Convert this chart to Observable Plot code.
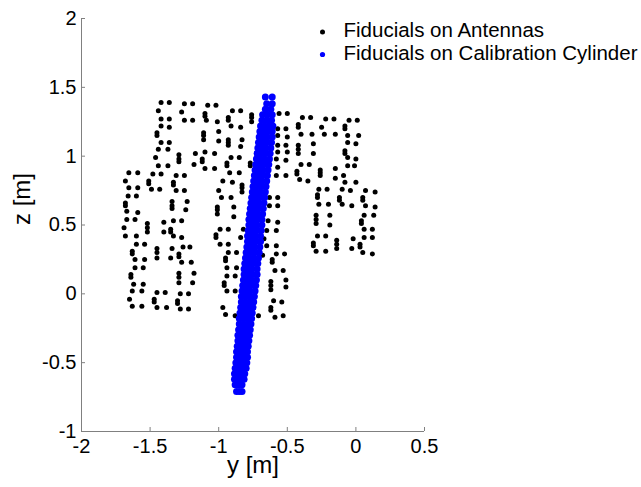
<!DOCTYPE html>
<html>
<head>
<meta charset="utf-8">
<script src="https://cdn.jsdelivr.net/npm/d3@7"></script>
<script src="https://cdn.jsdelivr.net/npm/@observablehq/plot@0.6"></script>
<style>
html, body { margin: 0; padding: 0; background: #ffffff; }
#chart { width: 641px; height: 487px; }
</style>
</head>
<body>
<div id="chart"></div>
<script>
// Axis ticks
const yTicks = [-2, -1.5, -1, -0.5, 0, 0.5];
const zTicks = [-1, -0.5, 0, 0.5, 1, 1.5, 2];
const axisLabels = ["y [m]", "z [m]"];

// Legend series
const seriesNames = ["Fiducials on Antennas", "Fiducials on Calibration Cylinder"];
const seriesColors = ["#000000", "#0000ff"];

// Fiducials on antennas: [y, z] in metres
const antennaPoints = [
  [-1.42,1.39],[-1.36,1.39],[-1.25,1.38],[-1.19,1.38],
  [-1.44,1.33],[-1.27,1.32],
  [-1.42,1.27],[-1.36,1.27],[-1.25,1.26],[-1.19,1.26],
  [-1.42,1.22],[-1.36,1.21],
  [-1.45,1.17],[-1.45,1.15],
  [-1.42,1.10],[-1.36,1.10],
  [-1.44,1.05],[-1.37,1.05],
  [-1.29,1.01],[-1.29,0.98],[-1.29,0.96],
  [-1.17,1.02],[-1.46,0.99],
  [-1.44,0.93],[-1.37,0.93],[-1.18,0.94],
  [-1.655,0.88],[-1.59,0.88],[-1.48,0.87],[-1.42,0.87],[-1.31,0.86],[-1.25,0.86],
  [-1.68,0.82],[-1.51,0.82],[-1.51,0.80],[-1.33,0.81],[-1.33,0.79],
  [-1.655,0.77],[-1.59,0.77],[-1.49,0.76],[-1.43,0.76],[-1.31,0.75],[-1.25,0.75],
  [-1.66,0.71],[-1.60,0.71],
  [-1.68,0.66],[-1.68,0.64],[-1.23,0.67],
  [-1.34,0.67],[-1.34,0.64],[-1.34,0.62],
  [-1.67,0.60],[-1.59,0.59],[-1.24,0.61],
  [-1.67,0.54],[-1.61,0.54],
  [-1.52,0.51],[-1.52,0.48],[-1.52,0.45],
  [-1.40,0.52],[-1.33,0.53],[-1.27,0.53],
  [-1.69,0.48],[-1.40,0.45],[-1.35,0.47],[-1.35,0.45],
  [-1.68,0.42],[-1.60,0.42],[-1.33,0.42],[-1.27,0.41],
  [-1.60,0.36],[-1.54,0.36],
  [-1.45,0.33],[-1.45,0.30],[-1.45,0.26],
  [-1.34,0.33],[-1.26,0.34],[-1.21,0.34],
  [-1.63,0.31],[-1.63,0.29],[-1.29,0.29],[-1.29,0.27],
  [-1.61,0.25],[-1.54,0.25],[-1.35,0.26],[-1.27,0.23],[-1.20,0.23],
  [-1.61,0.19],[-1.55,0.19],[-1.18,0.15],
  [-1.64,0.14],[-1.64,0.12],
  [-1.29,0.15],[-1.29,0.12],[-1.29,0.08],
  [-1.62,0.07],[-1.55,0.07],[-1.19,0.08],
  [-1.63,0.02],[-1.56,0.02],[-1.45,0.01],[-1.39,0.01],[-1.28,0.00],[-1.22,0.00],
  [-1.65,-0.04],[-1.47,-0.04],[-1.47,-0.06],[-1.30,-0.05],[-1.30,-0.07],
  [-1.63,-0.09],[-1.56,-0.09],[-1.45,-0.10],[-1.38,-0.10],[-1.28,-0.11],[-1.22,-0.11],
  [-1.08,1.37],[-1.02,1.37],[-1.10,1.31],[-1.10,1.29],
  [-0.90,1.33],[-0.84,1.33],
  [-0.76,1.30],[-0.76,1.28],[-0.76,1.25],
  [-1.09,1.26],[-1.01,1.25],[-0.93,1.28],[-0.93,1.26],
  [-0.91,1.22],[-0.84,1.21],
  [-1.11,1.17],[-1.11,1.15],[-1.11,1.12],
  [-1.00,1.18],
  [-0.93,1.12],[-0.93,1.10],[-0.93,1.08],
  [-1.00,1.11],[-0.83,1.12],[-0.84,1.07],
  [-1.10,1.03],[-1.03,1.02],
  [-0.91,0.99],[-0.85,0.99],
  [-1.12,0.98],[-1.12,0.96],
  [-1.10,0.91],[-1.03,0.91],
  [-0.94,0.95],[-0.94,0.93],
  [-0.77,0.95],[-0.77,0.93],
  [-0.92,0.88],[-0.85,0.88],
  [-0.97,0.82],[-0.90,0.81],
  [-0.83,0.79],[-0.83,0.77],[-0.83,0.74],
  [-1.00,0.75],
  [-0.98,0.70],[-0.91,0.70],
  [-0.56,1.31],[-0.50,1.31],
  [-0.57,1.20],[-0.51,1.20],
  [-0.57,1.15],[-0.50,1.14],
  [-0.57,1.08],[-0.51,1.08],
  [-0.57,1.03],[-0.50,1.03],
  [-0.58,0.98],[-0.51,0.97],
  [-0.57,0.92],
  [-0.58,0.86],[-0.51,0.86],
  [-0.63,0.70],[-0.57,0.70],
  [-0.63,0.64],[-0.57,0.64],
  [-1.01,0.63],[-1.01,0.61],[-1.01,0.58],
  [-0.89,0.63],[-0.89,0.56],
  [-0.64,0.53],[-0.57,0.52],
  [-0.99,0.47],[-0.93,0.47],[-0.82,0.47],
  [-1.02,0.43],[-1.02,0.41],[-0.84,0.41],[-0.67,0.40],
  [-0.65,0.46],[-0.58,0.46],
  [-0.99,0.36],[-0.93,0.36],[-0.65,0.35],[-0.58,0.35],
  [-0.93,0.30],[-0.87,0.30],
  [-0.95,0.26],[-0.95,0.24],[-0.68,0.28],[-0.58,0.29],[-0.52,0.29],
  [-0.94,0.19],[-0.87,0.19],[-0.61,0.25],[-0.61,0.23],
  [-0.94,0.13],[-0.88,0.13],[-0.59,0.17],[-0.53,0.17],
  [-0.96,0.08],[-0.96,0.06],
  [-0.62,0.09],[-0.62,0.06],[-0.62,0.03],
  [-0.51,0.10],[-0.51,0.05],
  [-0.94,0.02],[-0.88,0.02],
  [-0.60,-0.05],[-0.54,-0.06],
  [-0.97,-0.10],[-0.78,-0.12],[-0.62,-0.10],[-0.62,-0.12],
  [-0.95,-0.15],[-0.88,-0.16],[-0.71,-0.16],[-0.59,-0.17],[-0.53,-0.16],
  [-0.39,1.28],[-0.33,1.28],[-0.22,1.27],[-0.16,1.27],[-0.05,1.26],[0.01,1.26],
  [-0.42,1.23],[-0.42,1.21],[-0.25,1.21],[-0.08,1.22],[-0.08,1.20],
  [-0.40,1.16],[-0.32,1.16],[-0.23,1.16],[-0.15,1.16],[-0.06,1.15],[0.02,1.15],
  [-0.42,1.08],[-0.42,1.05],[-0.42,1.02],
  [-0.31,1.09],[-0.06,1.10],[0.00,1.09],
  [-0.31,1.02],[-0.08,1.04],[-0.08,1.02],
  [-0.06,0.99],[0.00,0.98],
  [-0.40,0.94],[-0.34,0.94],[-0.06,0.93],[-0.01,0.93],
  [-0.26,0.90],[-0.26,0.88],[-0.26,0.86],
  [-0.15,0.91],[-0.43,0.89],[-0.43,0.87],[-0.09,0.86],
  [-0.41,0.83],[-0.35,0.82],[-0.15,0.84],[-0.08,0.81],[0.00,0.81],
  [-0.27,0.76],[-0.21,0.76],[-0.10,0.76],[-0.04,0.75],[0.07,0.75],[0.14,0.74],
  [-0.28,0.72],[-0.28,0.70],[-0.12,0.70],[-0.12,0.68],[0.05,0.70],[0.05,0.68],
  [-0.27,0.65],[-0.20,0.65],[-0.10,0.65],[-0.03,0.64],[0.07,0.64],[0.14,0.63],
  [-0.29,0.57],[-0.29,0.54],[-0.29,0.51],
  [-0.19,0.57],[0.06,0.57],[0.13,0.57],
  [0.04,0.53],[0.04,0.51],
  [-0.19,0.50],[0.06,0.47],[0.12,0.47],
  [-0.28,0.42],[-0.22,0.42],
  [-0.14,0.39],[-0.14,0.36],[-0.14,0.33],
  [0.06,0.41],[0.12,0.41],[-0.02,0.40],
  [-0.31,0.37],[-0.31,0.35],[0.03,0.36],[0.03,0.34],[-0.03,0.33],
  [-0.29,0.31],[-0.22,0.31],[0.05,0.30],[0.12,0.29]
];

// Fiducials on calibration cylinder: rows of [z, [y values]] in metres
const cylinderRows = [
  [1.43, [-0.66, -0.61]],
  [1.38, [-0.65, -0.61]],
  [1.34, [-0.66, -0.62]],
  [1.30, [-0.68, -0.645, -0.61]],
  [1.26, [-0.685, -0.65, -0.615]],
  [1.22, [-0.695, -0.665, -0.635, -0.605]],
  [1.18, [-0.70, -0.67, -0.64, -0.61]],
  [1.14, [-0.705, -0.675, -0.645, -0.61]],
  [1.10, [-0.71, -0.68, -0.65, -0.615]],
  [1.06, [-0.715, -0.685, -0.655, -0.62]],
  [1.02, [-0.72, -0.69, -0.66, -0.625]],
  [0.98, [-0.725, -0.695, -0.665, -0.63]],
  [0.94, [-0.73, -0.70, -0.67, -0.635]],
  [0.90, [-0.735, -0.705, -0.675, -0.64]],
  [0.86, [-0.74, -0.71, -0.68, -0.645]],
  [0.82, [-0.745, -0.715, -0.685, -0.65]],
  [0.78, [-0.75, -0.72, -0.69, -0.655]],
  [0.74, [-0.755, -0.725, -0.695, -0.66]],
  [0.70, [-0.76, -0.73, -0.70, -0.665]],
  [0.66, [-0.765, -0.735, -0.705, -0.67]],
  [0.62, [-0.77, -0.74, -0.71, -0.675]],
  [0.58, [-0.775, -0.745, -0.715, -0.68]],
  [0.54, [-0.78, -0.75, -0.72, -0.685]],
  [0.50, [-0.78, -0.75, -0.72, -0.685]],
  [0.46, [-0.785, -0.755, -0.725, -0.69]],
  [0.42, [-0.79, -0.76, -0.73, -0.695]],
  [0.38, [-0.79, -0.76, -0.73, -0.695]],
  [0.34, [-0.795, -0.765, -0.735, -0.70]],
  [0.30, [-0.80, -0.77, -0.74, -0.705]],
  [0.26, [-0.805, -0.775, -0.745, -0.71]],
  [0.22, [-0.81, -0.78, -0.75, -0.715]],
  [0.18, [-0.815, -0.785, -0.755, -0.72]],
  [0.14, [-0.815, -0.785, -0.755, -0.72]],
  [0.10, [-0.82, -0.79, -0.76, -0.725]],
  [0.06, [-0.825, -0.795, -0.765, -0.73]],
  [0.02, [-0.83, -0.80, -0.77, -0.735]],
  [-0.02, [-0.835, -0.805, -0.775, -0.74]],
  [-0.06, [-0.835, -0.805, -0.775, -0.745]],
  [-0.10, [-0.84, -0.81, -0.78, -0.75]],
  [-0.14, [-0.845, -0.815, -0.785, -0.755]],
  [-0.18, [-0.85, -0.82, -0.79, -0.76]],
  [-0.22, [-0.85, -0.82, -0.79, -0.765]],
  [-0.26, [-0.855, -0.825, -0.80, -0.77]],
  [-0.30, [-0.86, -0.83, -0.80, -0.775]],
  [-0.34, [-0.86, -0.835, -0.81, -0.78]],
  [-0.38, [-0.865, -0.84, -0.81, -0.785]],
  [-0.42, [-0.87, -0.84, -0.815, -0.79]],
  [-0.46, [-0.87, -0.845, -0.82, -0.79]],
  [-0.50, [-0.875, -0.85, -0.82, -0.795]],
  [-0.54, [-0.88, -0.855, -0.83, -0.80]],
  [-0.58, [-0.885, -0.86, -0.835, -0.81]],
  [-0.62, [-0.885, -0.86, -0.835, -0.815]],
  [-0.66, [-0.88, -0.855, -0.83]],
  [-0.71, [-0.87, -0.85, -0.83]]
];

const cylinderPoints = cylinderRows.flatMap(([z, ys]) => ys.map(y => [y, z]));
const fmt = d => String(d);
const axisGray = "#808080";

const chart = Plot.plot({
  width: 641,
  height: 487,
  marginLeft: 81,
  marginRight: 217,
  marginTop: 18,
  marginBottom: 56,
  style: { fontFamily: "'Liberation Sans', Arial, sans-serif", background: "#ffffff", color: "#000000", overflow: "visible" },
  x: { domain: [yTicks[0], yTicks[yTicks.length - 1]] },
  y: { domain: [zTicks[0], zTicks[zTicks.length - 1]] },
  marks: [
    Plot.ruleY([zTicks[0]], { stroke: axisGray }),
    Plot.ruleX([yTicks[0]], { stroke: axisGray }),
    Plot.tickX(yTicks, { x: d => d, stroke: axisGray, insetTop: 409 }),
    Plot.tickY(zTicks, { y: d => d, stroke: axisGray, insetRight: 339 }),
    Plot.axisX({ ticks: yTicks, tickSize: 0, tickPadding: 7, tickFormat: fmt, fontSize: 20, label: null }),
    Plot.axisY({ ticks: zTicks, tickSize: 0, tickPadding: 5, tickFormat: fmt, fontSize: 20, label: null }),
    Plot.text([axisLabels[0]], { text: d => d, frameAnchor: "bottom", lineAnchor: "middle", dy: 34, fontSize: 24 }),
    Plot.text([axisLabels[1]], { text: d => d, frameAnchor: "left", lineAnchor: "middle", dx: -59, rotate: -90, fontSize: 24 }),
    Plot.dot(antennaPoints, { x: d => d[0], y: d => d[1], r: 2.5, fill: seriesColors[0], stroke: null }),
    Plot.dot(cylinderPoints, { x: d => d[0], y: d => d[1], r: 3.5, fill: seriesColors[1], stroke: null }),
    Plot.dot([seriesNames[0]], { frameAnchor: "top-left", dx: 241, dy: 13.5, r: 2.5, fill: seriesColors[0] }),
    Plot.text([seriesNames[0]], { text: d => d, frameAnchor: "top-left", lineAnchor: "middle", dx: 262, dy: 11.5, textAnchor: "start", fontSize: 20.5 }),
    Plot.dot([seriesNames[1]], { frameAnchor: "top-left", dx: 241, dy: 36, r: 2.6, fill: seriesColors[1] }),
    Plot.text([seriesNames[1]], { text: d => d, frameAnchor: "top-left", lineAnchor: "middle", dx: 262, dy: 34.5, textAnchor: "start", fontSize: 20.5 })
  ]
});

document.getElementById("chart").appendChild(chart);
</script>
</body>
</html>
